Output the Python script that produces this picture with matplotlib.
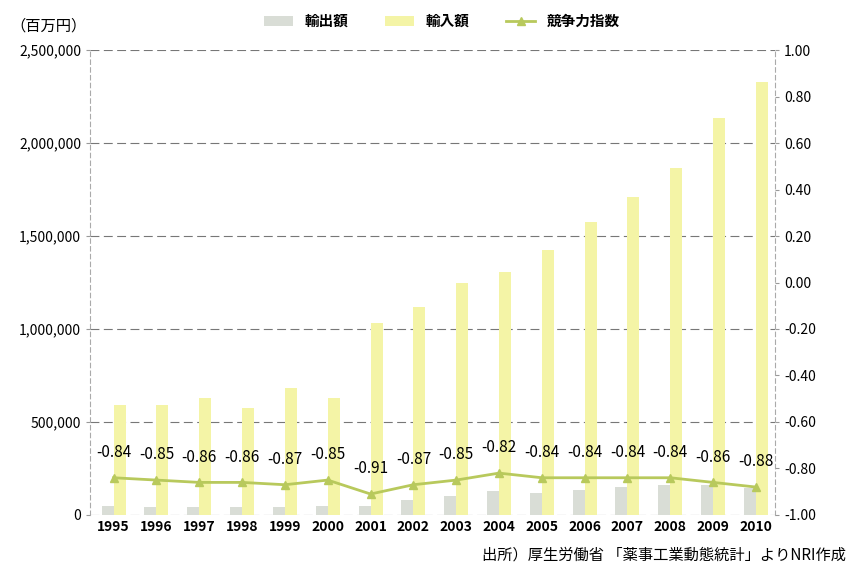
import numpy as np
import matplotlib.pyplot as plt

plt.rcParams['font.family'] = ['Noto Sans CJK JP', 'DejaVu Sans']

years = ['1995', '1996', '1997', '1998', '1999', '2000', '2001', '2002',
         '2003', '2004', '2005', '2006', '2007', '2008', '2009', '2010']
exports = [50000, 45000, 45000, 42000, 45000, 50000, 48000, 80000,
           100000, 130000, 120000, 135000, 150000, 160000, 160000, 145000]
imports = [591000, 590000, 629000, 575000, 683000, 629000, 1032000, 1118000,
           1247000, 1306000, 1425000, 1575000, 1710000, 1866000, 2134000, 2328000]
index = [-0.84, -0.85, -0.86, -0.86, -0.87, -0.85, -0.91, -0.87,
         -0.85, -0.82, -0.84, -0.84, -0.84, -0.84, -0.86, -0.88]

x = np.arange(len(years))
w = 0.28

fig = plt.figure(figsize=(8.5, 5.69), dpi=100)
ax = fig.add_axes([0.106, 0.095, 0.806, 0.817])
ax2 = ax.twinx()

ax.bar(x - w / 2, exports, w, color='#d9ddd6', label='輸出額', zorder=2)
ax.bar(x + w / 2, imports, w, color='#f4f4a6', label='輸入額', zorder=2)
ax.set_ylim(0, 2500000)
ax.set_yticks(np.arange(0, 2500001, 500000))
ax.set_yticklabels([f'{v:,}' for v in range(0, 2500001, 500000)], fontsize=10)
ax.grid(axis='y', color='#777777', linestyle=(0, (8, 4)), linewidth=0.8, zorder=0)
ax.set_axisbelow(True)
ax.set_xlim(-0.55, 15.45)
ax.set_xticks(x)
ax.set_xticklabels(years, fontsize=10, fontweight='bold')
ax.tick_params(axis='x', length=0)
ax.tick_params(axis='y', length=3, color='#999999')

line, = ax2.plot(x, index, color='#b8c95c', linewidth=2, marker='^',
                 markersize=6, label='競争力指数', zorder=3)
ax2.set_ylim(-1.0, 1.0)
rticks = np.round(np.arange(-1.0, 1.01, 0.2), 2) + 0.0
ax2.set_yticks(rticks)
ax2.set_yticklabels([f'{abs(v):.2f}' if abs(v) < 1e-9 else f'{v:.2f}' for v in rticks],
                    fontsize=10)
ax2.tick_params(axis='y', length=3, color='#999999')
for xi, v in zip(x, index):
    ax2.annotate(f'{v:.2f}', (xi, v), xytext=(0, 12), textcoords='offset points',
                 ha='center', va='bottom', fontsize=11)

for a in (ax, ax2):
    for s in a.spines.values():
        s.set_visible(False)
ax.spines['left'].set_visible(True)
ax.spines['left'].set_color('#aaaaaa')
ax.spines['left'].set_linestyle((0, (4, 3)))
ax2.spines['right'].set_visible(True)
ax2.spines['right'].set_color('#aaaaaa')
ax2.spines['right'].set_linestyle((0, (4, 3)))

handles = [ax.patches[0], ax.patches[len(years)], line]
fig.legend(handles, ['輸出額', '輸入額', '競争力指数'], loc='upper center',
           bbox_to_anchor=(0.52, 1.0), ncol=3, frameon=False,
           prop={'size': 10.5, 'weight': 'bold'}, columnspacing=2.5)

fig.text(0.012, 0.955, '（百万円）', fontsize=11, ha='left', va='center')
fig.text(0.995, 0.025, '出所）厚生労働省 「薬事工業動態統計」よりNRI作成',
         fontsize=11, ha='right', va='center')

fig.savefig('out.png', dpi=100)
